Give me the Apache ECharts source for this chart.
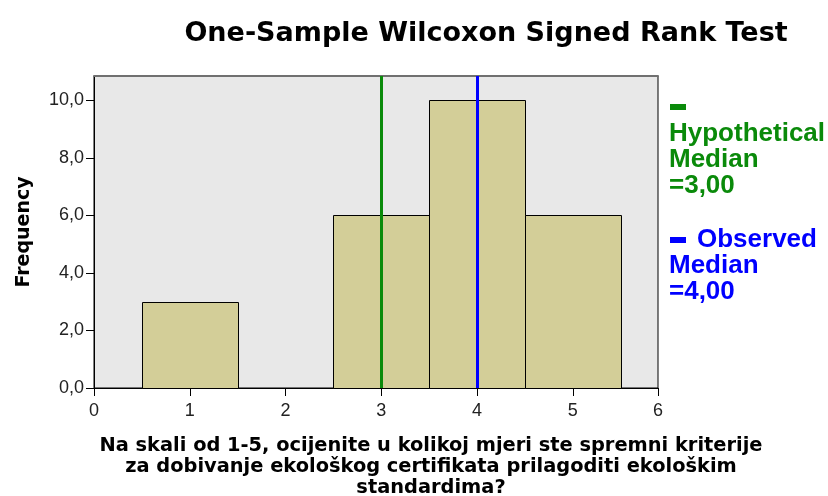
<!DOCTYPE html>
<html>
<head>
<meta charset="utf-8">
<script src="https://cdn.jsdelivr.net/npm/echarts@6/dist/echarts.min.js"></script>
<style>html,body{margin:0;padding:0;background:#fff}#c{width:828px;height:496px}</style>
</head>
<body>
<div id="c"></div>
<script>
const chartTitle = 'One-Sample Wilcoxon Signed Rank Test';
const xAxisTitle = 'Na skali od 1-5, ocijenite u kolikoj mjeri ste spremni kriterije\nza dobivanje ekološkog certifikata prilagoditi ekološkim\nstandardima?';
const yAxisTitle = 'Frequency';
const categories = [1, 2, 3, 4, 5];
const frequencies = [3, 0, 6, 10, 6];
const xMax = 5.89;            // right edge of the plot frame (labelled "6" in the original)
const xTicks = [0, 1, 2, 3, 4, 5, xMax];
const xTickLabels = ['0', '1', '2', '3', '4', '5', '6'];
const yMax = 10.85;
const yTicks = [0, 2, 4, 6, 8, 10];
const hypotheticalMedian = 3;
const observedMedian = 4;
const hypoLabel = 'Hypothetical\nMedian\n=3,00';
const obsLabel1 = 'Observed';
const obsLabel2 = 'Median\n=4,00';

const chart = echarts.init(document.getElementById('c'), null, {renderer: 'canvas'});
const barData = categories.map((c, i) => [c, frequencies[i]]);
const fmt1 = v => Number(v).toFixed(1).replace('.', ',');
const fmtX = v => { const i = xTicks.findIndex(t => Math.abs(t - v) < 1e-6); return i >= 0 ? xTickLabels[i] : ''; };

chart.setOption({
  animation: false,
  backgroundColor: '#ffffff',
  title: [{
    text: chartTitle,
    left: 481, top: 15, textAlign: 'center',
    textStyle: {fontFamily: 'DejaVu Sans', fontWeight: 'bold', fontSize: 27, color: '#000'}
  }, {
    text: xAxisTitle,
    left: 426, top: 430, textAlign: 'center',
    textStyle: {fontFamily: 'DejaVu Sans', fontWeight: 'bold', fontSize: 19.4, lineHeight: 21, color: '#000'}
  }],
  grid: {left: 94, right: 170, top: 76, bottom: 108, outerBoundsMode: 'none', containLabel: false, show: true, backgroundColor: '#e8e8e8', borderColor: '#000', borderWidth: 1},
  xAxis: [{
    type: 'value', min: 0, max: xMax, position: 'bottom',
    axisLine: {show: true, lineStyle: {color: '#000', width: 1}},
    axisTick: {show: true, length: 8, customValues: xTicks, lineStyle: {color: '#000'}},
    axisLabel: {customValues: xTicks, margin: 14, fontFamily: 'Liberation Sans', fontSize: 18, color: '#222', formatter: fmtX},
    splitLine: {show: false}
  }, {
    type: 'value', min: 0, max: xMax, position: 'top',
    axisLine: {show: true, lineStyle: {color: '#707070', width: 2}},
    axisTick: {show: false}, axisLabel: {show: false}, splitLine: {show: false}
  }],
  yAxis: {
    type: 'value', min: 0, max: yMax,
    name: yAxisTitle, nameLocation: 'middle', nameGap: 60, nameRotate: 90,
    nameTextStyle: {fontFamily: 'DejaVu Sans', fontWeight: 'bold', fontSize: 19, color: '#000'},
    axisLine: {show: true, lineStyle: {color: '#000', width: 1}},
    axisTick: {show: true, length: 8, customValues: yTicks, lineStyle: {color: '#000'}},
    axisLabel: {customValues: yTicks, margin: 10, fontFamily: 'Liberation Sans', fontSize: 18, color: '#222', formatter: fmt1},
    splitLine: {show: false}
  },
  series: [{
    type: 'custom',
    data: barData,
    encode: {x: 0, y: 1},
    renderItem: function (params, api) {
      const x = api.value(0), y = api.value(1);
      if (!y) return null;
      const p0 = api.coord([x - 0.5, y]);
      const p1 = api.coord([x + 0.5, 0]);
      return {
        type: 'rect',
        shape: {x: Math.round(p0[0]) + 0.5, y: Math.round(p0[1]) + 0.5, width: Math.round(p1[0] - p0[0]), height: Math.round(p1[1] - p0[1])},
        style: {fill: '#d3ce98', stroke: '#000', lineWidth: 1}
      };
    }
  }, {
    type: 'line', data: [], silent: true,
    markLine: {
      silent: true, symbol: 'none', label: {show: false},
      data: [
        {xAxis: hypotheticalMedian, lineStyle: {color: '#0a8a0a', width: 3, type: 'solid'}},
        {xAxis: observedMedian, lineStyle: {color: '#0000ff', width: 3, type: 'solid'}}
      ]
    }
  }],
  graphic: [
    {type: 'rect', left: 670, top: 104, shape: {width: 16, height: 6}, style: {fill: '#0a8a0a'}},
    {type: 'text', left: 669, top: 121, style: {text: hypoLabel, font: 'bold 26px "Liberation Sans"', lineHeight: 26, fill: '#0a8a0a'}},
    {type: 'rect', left: 670, top: 237, shape: {width: 16, height: 6}, style: {fill: '#0000ff'}},
    {type: 'text', left: 697, top: 227, style: {text: obsLabel1, font: 'bold 26px "Liberation Sans"', lineHeight: 26, fill: '#0000ff'}},
    {type: 'text', left: 669, top: 253, style: {text: obsLabel2, font: 'bold 26px "Liberation Sans"', lineHeight: 26, fill: '#0000ff'}}
  ]
});
</script>
</body>
</html>
